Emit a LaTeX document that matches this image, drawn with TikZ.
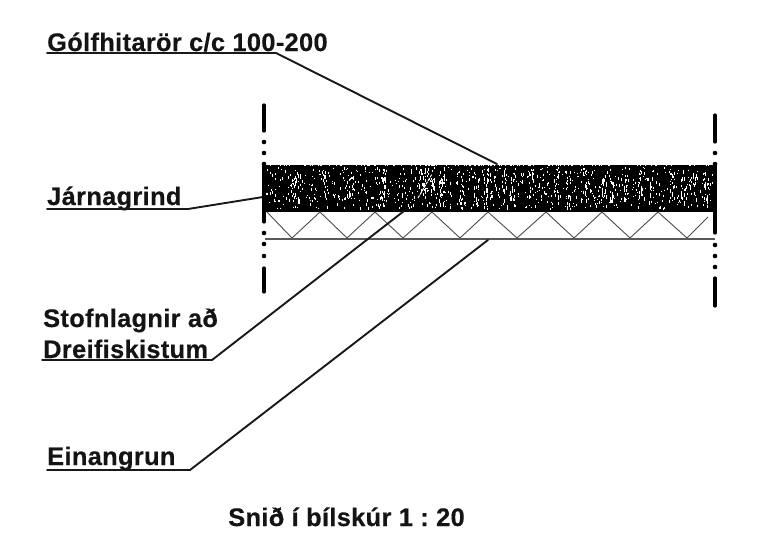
\documentclass[tikz,border=0pt]{standalone}
\usepackage{fontspec}
\setmainfont{Liberation Sans}[LetterSpace=1.3,FakeBold=0.4]
\tikzset{
  lab/.style={font=\fontsize{25.4}{28}\selectfont\bfseries\frenchspacing, inner sep=0pt, anchor=base west, text=black!92},
  leader/.style={line width=1.9pt, black!90, line cap=round, line join=round},
  zig/.style={line width=0.9pt, black!70},
  sheet/.style={line width=1.5pt, black!65},
  cutline/.style={line width=3.2pt, black, line cap=round},
  cutdot/.style={fill=black, circle, inner sep=0pt, minimum size=4.6pt},
}
\begin{document}
\begin{tikzpicture}[x=1pt,y=-1pt]
\useasboundingbox (0,0) rectangle (762,541);
% slab
\fill[black] (264,165) rectangle (716,211);
\pgfmathsetseed{4271}
\foreach \i in {1,...,750}{
  \pgfmathsetmacro{\px}{266+447*rnd}
  \pgfmathsetmacro{\py}{167+41*rnd}
  \pgfmathsetmacro{\pl}{0.5+2.4*rnd}
  \pgfmathsetmacro{\pw}{0.25+0.4*rnd}
  \draw[white,line width=\pw pt] (\px,\py) -- ++(0,\pl);
}
% specks gathered into irregular vertical streaks
\foreach \sx/\sa/\sb in {294/170/30,298/172/33,325/171/29,351/172/26,383/176/22,382/190/16,384/168/12,421/170/22,427/168/32,432/178/12,441/170/35,443/174/26,462/176/28,476/170/34,486/168/38,489/172/24,504/170/34,512/172/28,532/168/22,556/172/32,568/176/32,584/170/30,604/172/33,611/176/28,626/175/25,640/170/30,650/172/32,672/172/28,683/176/28,694/170/30,706/172/34}{
  \foreach \k in {1,...,13}{
    \pgfmathsetmacro{\qx}{\sx+2.6*rand}
    \pgfmathsetmacro{\qy}{\sa+\sb*rnd}
    \pgfmathsetmacro{\ql}{1+3.2*rnd}
    \draw[white,line width=0.6pt] (\qx,\qy) -- ++(0,\ql);
  }
}
\draw[white,line width=1pt,dash pattern=on 3pt off 1pt] (418,198) -- (432,174);
% rough top edge
\foreach \i in {1,...,110}{
  \pgfmathsetmacro{\px}{265+450*rnd}
  \draw[white,line width=0.7pt] (\px,164.6) -- ++(0,1.3);
}
\draw[black,line width=2.2pt] (264,211) -- (716,211);
% insulation
\draw[sheet] (265,239) -- (715,239);
\draw[zig] (267,212) -- (292,238) -- (320,212) -- (347,238) -- (375,212) -- (403,238) -- (432,212) -- (460,238) -- (488,212) -- (517,238) -- (546,212) -- (574,238) -- (602,212) -- (630,238) -- (658,212) -- (687,238) -- (708,217);
% labels
\node[lab] (golf) at (47,51) {Gólfhitarör c/c 100-200};
\node[lab] (jarn) at (47,205) {Járnagrind};
\node[lab] (stofn) at (43,327) {Stofnlagnir að};
\node[lab] (dreif) at (43,358) {Dreifiskistum};
\node[lab] (einan) at (47,465) {Einangrun};
\node[lab,anchor=base] (title) at (346.5,526) {Snið í bílskúr 1 : 20};
% leader coordinates
\coordinate (g0) at (47,53);   \coordinate (g1) at (276,53);  \coordinate (g2) at (497,164);
\coordinate (j0) at (47,209);  \coordinate (j1) at (188,209); \coordinate (j2) at (263,197);
\coordinate (s0) at (42,360);  \coordinate (s1) at (212,360); \coordinate (s2) at (404,211);
\coordinate (e0) at (47,470);  \coordinate (e1) at (190,470); \coordinate (e2) at (488,240);
\draw[leader] (g0) -- (g1) -- (g2);
\draw[leader] (j0) -- (j1) -- (j2);
\draw[leader] (s0) -- (s1) -- (s2);
\draw[leader] (e0) -- (e1) -- (e2);
% cut lines left
\draw[cutline] (264,105) -- (264,131);
\node[cutdot] (la) at (264,142) {};
\node[cutdot] (lb) at (264,153) {};
\node[cutdot] (lc) at (264,164) {};
\draw[cutline] (264,166) -- (264,222);
\node[cutdot] (ld) at (264,233) {};
\node[cutdot] (le) at (264,244) {};
\node[cutdot] (lf) at (264,256) {};
\draw[cutline] (264,268) -- (264,292);
% cut lines right
\draw[cutline] (715,115) -- (715,142);
\node[cutdot] (ra) at (715,153) {};
\node[cutdot] (rb) at (715,164) {};
\draw[cutline] (715,166) -- (715,233);
\node[cutdot] (rc) at (715,245) {};
\node[cutdot] (rd) at (715,256) {};
\node[cutdot] (re) at (715,267) {};
\draw[cutline] (715,278) -- (715,306);
\end{tikzpicture}
\end{document}
